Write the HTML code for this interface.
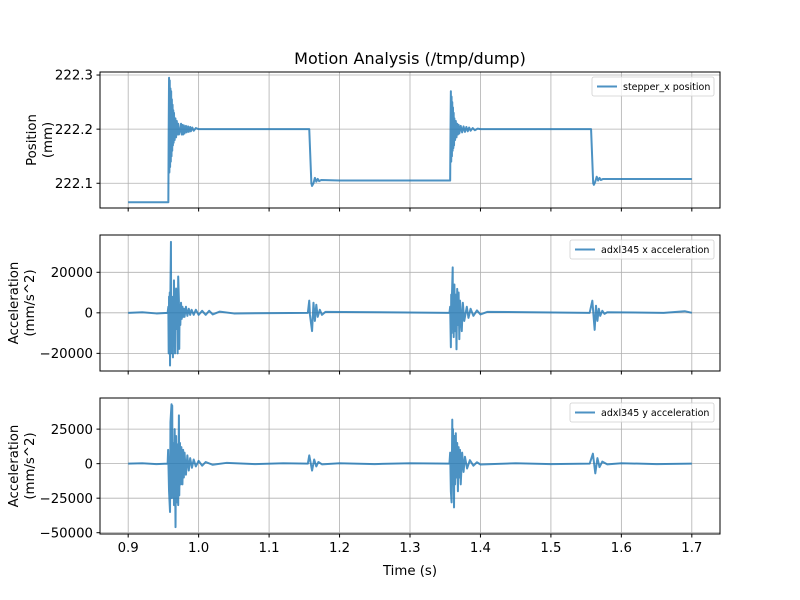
<!DOCTYPE html>
<html><head><meta charset="utf-8"><style>
body{margin:0;background:#fff}
svg{display:block;font-family:"DejaVu Sans","Liberation Sans",sans-serif}
</style></head><body>
<svg id="chart" width="800" height="600" viewBox="0 0 800 600">
<text x="410" y="64" font-size="16" text-anchor="middle">Motion Analysis (/tmp/dump)</text>
<g id="root"></g>
</svg>
<script>
// ---------- data ----------
const xTicks = [0.9, 1.0, 1.1, 1.2, 1.3, 1.4, 1.5, 1.6, 1.7];
const posTicks = [222.1, 222.2, 222.3];
const accXTicks = [-20000, 0, 20000];
const accYTicks = [-50000, -25000, 0, 25000];

const posT = [0.9,0.957,0.9575,0.958,0.9585,0.959,0.9595,0.960,0.9605,0.961,0.9615,0.962,0.9625,0.963,0.9635,0.964,0.9645,0.965,0.966,0.967,0.968,0.969,0.970,0.971,0.972,0.974,0.975,0.976,0.977,0.978,0.979,0.980,0.982,0.983,0.985,0.986,0.988,0.989,0.991,0.993,0.996,1.0,1.157,1.160,1.161,1.163,1.165,1.167,1.169,1.171,1.174,1.2,1.357,1.3575,1.358,1.3585,1.359,1.3595,1.360,1.3605,1.361,1.3615,1.362,1.3625,1.363,1.364,1.365,1.366,1.367,1.368,1.369,1.370,1.372,1.374,1.376,1.378,1.380,1.382,1.384,1.386,1.389,1.392,1.396,1.4,1.557,1.560,1.561,1.563,1.565,1.567,1.569,1.571,1.574,1.6,1.7];
const posV = [222.065,222.065,222.20,222.295,222.12,222.29,222.13,222.275,222.14,222.27,222.15,222.255,222.16,222.245,222.17,222.235,222.175,222.23,222.18,222.22,222.185,222.215,222.19,222.21,222.19,222.2,222.21,222.19,222.208,222.19,222.207,222.192,222.206,222.194,222.205,222.195,222.204,222.196,222.203,222.197,222.202,222.2,222.2,222.1,222.095,222.1,222.11,222.103,222.108,222.104,222.106,222.105,222.105,222.2,222.27,222.14,222.26,222.15,222.25,222.16,222.24,222.165,222.23,222.17,222.22,222.18,222.215,222.185,222.21,222.19,222.208,222.192,222.206,222.194,222.205,222.195,222.204,222.196,222.203,222.197,222.202,222.198,222.201,222.2,222.2,222.1,222.097,222.103,222.112,222.105,222.110,222.106,222.108,222.108,222.108];

const accXT = [0.9,0.92,0.94,0.956,0.957,0.9575,0.958,0.9585,0.959,0.9594,
  0.960,0.9607,0.961,0.9615,0.962,0.963,0.9635,0.964,0.9645,0.965,
  0.9655,0.966,0.9665,0.967,0.9675,0.968,0.969,0.9695,0.970,0.9702,
  0.971,0.972,0.9725,0.973,0.974,0.975,0.976,0.977,0.978,0.979,
  0.980,0.982,0.984,0.986,0.988,0.990,0.993,0.996,1.0,1.005,
  1.01,1.015,1.02,1.03,1.05,1.155,1.157,1.158,1.161,1.163,
  1.165,1.167,1.169,1.172,1.175,1.18,1.356,1.357,1.358,1.3585,
  1.359,1.3595,1.3606,1.361,1.3615,1.362,1.363,1.364,1.365,1.366,
  1.367,1.368,1.369,1.370,1.371,1.3735,1.375,1.377,1.3806,1.383,
  1.386,1.39,1.395,1.4,1.41,1.555,1.5588,1.5621,1.564,1.566,
  1.568,1.57,1.573,1.576,1.58,1.66,1.69,1.7];
const accXV = [0,300,-300,0,3000,-20000,8000,-18000,10000,-26000,
  12000,35000,-10000,8000,-20000,7000,-22000,8000,-12000,16000,
  -5000,9000,-20000,10000,-8000,12000,-6000,9000,-10000,-20000,
  17900,6000,-17800,4000,-6000,5000,-3000,3000,-2000,2000,
  -2000,3000,-1500,2000,-1000,1500,-1000,1500,-1000,1000,
  -1000,1000,-800,600,-300,0,6000,-1000,-9000,5000,
  -4000,4000,-2000,1500,-1000,500,0,3000,-17000,9000,
  -10000,8000,22400,-8000,10000,-12000,14000,-9000,9000,-18000,
  11800,-6000,10000,-13000,6000,-9000,5000,-4000,3000,-2500,
  2000,-1500,1200,-800,500,0,6000,-8400,3500,-4000,
  2000,-1500,1000,-500,300,0,800,0];

const accYT = [0.9,0.92,0.94,0.956,0.9567,0.958,0.9594,0.960,0.9615,0.962,0.9625,0.963,0.964,0.965,0.966,0.9672,0.968,0.969,0.970,0.971,0.972,0.9725,0.9735,0.9745,0.9755,0.977,0.978,0.979,0.980,0.982,0.984,0.986,0.988,0.9905,0.993,0.996,1.0,1.005,1.01,1.02,1.04,1.08,1.12,1.155,1.157,1.161,1.164,1.167,1.17,1.175,1.2,1.25,1.3,1.356,1.357,1.358,1.359,1.360,1.3605,1.361,1.3625,1.363,1.364,1.365,1.366,1.367,1.368,1.369,1.370,1.371,1.372,1.374,1.376,1.378,1.381,1.385,1.39,1.395,1.4,1.45,1.5,1.555,1.5596,1.563,1.566,1.569,1.573,1.58,1.6,1.65,1.7];
const accYV = [0,300,-300,0,10000,-20000,-35000,30000,43000,-25000,42000,-20000,15000,-30000,25000,-46000,20000,-28000,14000,-30000,35000,-23000,15000,-15000,12000,-15000,10000,-10000,8000,-8000,6000,-5000,4000,-3000,3000,-2000,2000,-1500,1200,-800,600,-300,300,0,6000,-5000,3000,-2000,1200,-500,300,-300,300,0,8000,-20000,-28000,31900,-10000,25000,-31700,20000,-15000,22000,-10000,15000,-20000,12000,-10000,10000,-15000,8000,-6000,5000,-3500,2500,-1500,1000,-600,300,-300,0,7200,-7000,4000,-2500,1500,-500,300,-300,0];

// ---------- layout ----------
const X0 = 100, X1 = 720, XMIN = 0.86, XMAX = 1.74;
const panels = [
  {top:72, bot:208, ymin:222.0543, ymax:222.3056, t:posT, v:posV, ticks:posTicks, fmt:v=>v.toFixed(1), label:["Position","(mm)"], lx:28, legend:"stepper_x position", lw:122, name:"position"},
  {top:235, bot:371, ymin:-28700, ymax:38400, t:accXT, v:accXV, ticks:accXTicks, fmt:v=>v<0?"\u2212"+(-v):""+v, label:["Acceleration","(mm/s^2)"], lx:10, legend:"adxl345 x acceleration", lw:144, name:"x-acceleration"},
  {top:398, bot:534, ymin:-50940, ymax:47540, t:accYT, v:accYV, ticks:accYTicks, fmt:v=>v<0?"\u2212"+(-v):""+v, label:["Acceleration","(mm/s^2)"], lx:10, legend:"adxl345 y acceleration", lw:144, name:"y-acceleration"}
];
const NS = "http://www.w3.org/2000/svg";
const root = document.getElementById('root');
function mk(tag, attrs, parent){const e=document.createElementNS(NS,tag);for(const k in attrs)e.setAttribute(k,attrs[k]);(parent||root).appendChild(e);return e;}
const xs = t => X0 + (t - XMIN)/(XMAX - XMIN)*(X1 - X0);
const LINE = "rgba(31,119,180,0.8)";

panels.forEach((p, pi) => {
  const ys = v => p.bot - (v - p.ymin)/(p.ymax - p.ymin)*(p.bot - p.top);
  const g = mk('g', {});
  
  
  xTicks.forEach(t => {
    const l = mk('line', {x1:xs(t), x2:xs(t), y1:p.top, y2:p.bot, stroke:'#b0b0b0', 'stroke-width':0.8}, g);
    
    
    const tk = mk('line', {x1:xs(t), x2:xs(t), y1:p.bot, y2:p.bot+3.5, stroke:'#000', 'stroke-width':1}, g);
    
    
    if (pi === 2) {
      const tx = mk('text', {x:xs(t), y:p.bot+18, 'font-size':13.3, 'text-anchor':'middle'}, g);
      tx.textContent = t.toFixed(1);
      
      
    }
  });
  p.ticks.forEach(v => {
    const l = mk('line', {x1:X0, x2:X1, y1:ys(v), y2:ys(v), stroke:'#b0b0b0', 'stroke-width':0.8}, g);
    
    
    const tk = mk('line', {x1:X0-3.5, x2:X0, y1:ys(v), y2:ys(v), stroke:'#000', 'stroke-width':1}, g);
    
    
    const tx = mk('text', {x:X0-7, y:ys(v)+4.7, 'font-size':13.3, 'text-anchor':'end'}, g);
    tx.textContent = p.fmt(v);
    
    
  });
  let d = '';
  p.t.forEach((t, i) => { d += (i ? 'L' : 'M') + xs(t).toFixed(2) + ',' + ys(p.v[i]).toFixed(2); });
  const path = mk('path', {d:d, fill:'none', stroke:LINE, 'stroke-width':2, 'stroke-linejoin':'round'}, g);
  
  
  const fr = mk('rect', {x:X0, y:p.top, width:X1-X0, height:p.bot-p.top, fill:'none', stroke:'#000', 'stroke-width':1, 'shape-rendering':'crispEdges'}, g);
  
  
  const cy = (p.top + p.bot)/2;
  const yl = mk('text', {transform:`translate(${p.lx+8},${cy}) rotate(-90)`, 'font-size':13.3, 'text-anchor':'middle'}, g);
  
  
  const s1 = mk('tspan', {x:0, y:0}, yl); s1.textContent = p.label[0];
  const s2 = mk('tspan', {x:0, y:16}, yl); s2.textContent = p.label[1];
  const lx = X1 - 6 - p.lw, ly = p.top + 5;
  const lg = mk('g', {}, g);
  
  
  mk('rect', {x:lx, y:ly, width:p.lw, height:19, rx:2, fill:'rgba(255,255,255,0.8)', stroke:'#d0d0d0', 'stroke-width':0.8}, lg);
  mk('line', {x1:lx+5, x2:lx+25, y1:ly+9.5, y2:ly+9.5, stroke:LINE, 'stroke-width':2}, lg);
  const lt = mk('text', {x:lx+31, y:ly+13, 'font-size':9.5}, lg);
  lt.textContent = p.legend;
});
const xl = mk('text', {x:410, y:575, 'font-size':13.3, 'text-anchor':'middle'});
xl.textContent = 'Time (s)';


</script>
</body></html>
